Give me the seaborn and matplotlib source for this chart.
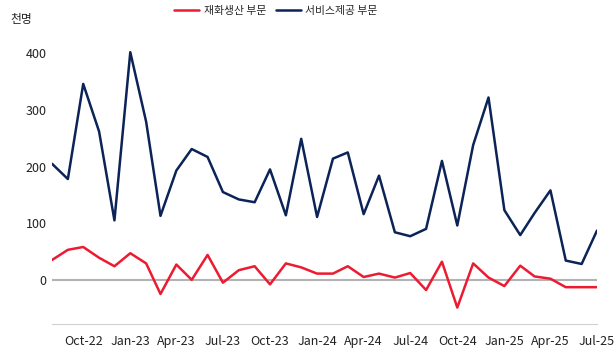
import pandas as pd
import matplotlib.pyplot as plt
import matplotlib.dates as mdates
import seaborn as sns

months = pd.date_range('2022-08-01', '2025-07-01', freq='MS')

goods = [35, 53, 58, 39, 24, 47, 29, -25, 27, 0, 44, -5,
         17, 24, -8, 29, 22, 11, 11, 24, 5, 11, 4, 12,
         -18, 32, -49, 29, 4, -11, 25, 6, 2, -13, -13, -13]
services = [205, 178, 346, 262, 105, 402, 279, 113, 193, 231, 217, 155,
            142, 137, 195, 114, 249, 111, 214, 225, 116, 184, 84, 77,
            90, 210, 96, 238, 322, 123, 79, 118, 158, 34, 28, 87]

labels = ['재화생산 부문', '서비스제공 부문']
colors = ['#ec1b31', '#0b2357']

df = pd.DataFrame({'month': list(months) * 2,
                   'value': goods + services,
                   'series': [labels[0]] * len(goods) + [labels[1]] * len(services)})

sns.set_style('white')
plt.rcParams['font.family'] = ['Noto Sans CJK KR', 'DejaVu Sans']

fig = plt.figure(figsize=(6.16, 3.55), dpi=100)
ax = fig.add_axes([52 / 616, 31 / 355, 545 / 616, 282 / 355])

ax.axhline(0, color='#b3b3b3', linewidth=1.5, zorder=1)
sns.lineplot(data=df, x='month', y='value', hue='series', palette=colors,
             linewidth=1.8, ax=ax, zorder=3)

ax.set_xlim(months[0], months[-1])
ax.set_ylim(-78, 420)
ax.set_yticks([0, 100, 200, 300, 400])
ax.xaxis.set_major_locator(mdates.MonthLocator(bymonth=[1, 4, 7, 10]))
ax.xaxis.set_major_formatter(mdates.DateFormatter('%b-%y'))

for side in ['left', 'right', 'top']:
    ax.spines[side].set_visible(False)
ax.spines['bottom'].set_color('#d0d0d0')
ax.tick_params(axis='x', length=5, color='#d0d0d0', labelsize=9, pad=3, labelcolor='#222222')
ax.tick_params(axis='y', length=0, labelsize=9, pad=4, labelcolor='#222222')
ax.set_xlabel('')
ax.set_ylabel('')

ax.legend(loc='center', bbox_to_anchor=(276 / 616, 1 - 11 / 355), bbox_transform=fig.transFigure,
          ncol=2, frameon=False, fontsize=7.8, handlelength=2.3, columnspacing=0.85,
          handletextpad=0.45)
fig.text(10 / 616, 1 - 19 / 355, '천명', fontsize=8.5, va='center', color='#222222')

plt.savefig('out.png', dpi=100)
